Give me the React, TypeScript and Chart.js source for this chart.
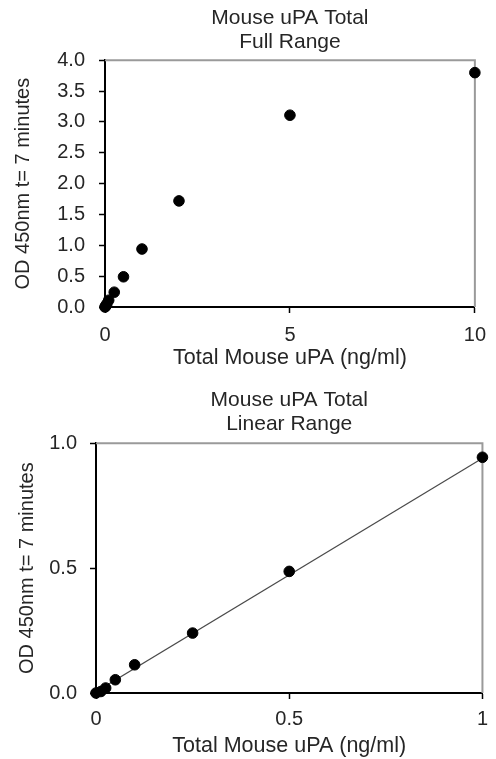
import React, { useEffect, useRef } from "react";
import { Chart, registerables } from "chart.js";

Chart.register(...registerables);

// ---- Data ----
const fullConc = [0, 0.0125, 0.025, 0.05, 0.1, 0.25, 0.5, 1, 2, 5, 10];
const fullOD = [0.0, 0.01, 0.02, 0.05, 0.11, 0.24, 0.49, 0.94, 1.72, 3.11, 3.8];

const linConc = [0, 0.0125, 0.025, 0.05, 0.1, 0.25, 0.5, 1];
const linOD = [0.0, 0.006, 0.02, 0.053, 0.113, 0.24, 0.487, 0.944];

const fitX = [0, 1];
const fitY = [0.005, 0.94];

const fullTitle = ["Mouse uPA Total", "Full Range"];
const linTitle = ["Mouse uPA Total", "Linear Range"];
const xTitle = "Total Mouse uPA (ng/ml)";
const yTitle = "OD 450nm t= 7 minutes";

const FONT = "'Liberation Sans', Arial, sans-serif";
const TXT = "#262626";

const framePlugin = {
  id: "frame",
  beforeDatasetsDraw(chart: any) {
    const { ctx, chartArea } = chart;
    ctx.save();
    ctx.strokeStyle = "#9a9a9a";
    ctx.lineWidth = 2;
    ctx.beginPath();
    ctx.moveTo(chartArea.left, chartArea.top);
    ctx.lineTo(chartArea.right, chartArea.top);
    ctx.lineTo(chartArea.right, chartArea.bottom);
    ctx.stroke();
    ctx.restore();
  },
};

type P = {
  w: number;
  h: number;
  title: string[];
  titlePad: { top: number; bottom: number };
  xs: number[];
  ys: number[];
  fit?: boolean;
  xMax: number;
  xStep: number;
  yMax: number;
  yStep: number;
  yWidth: number;
  xHeight: number;
  padRight: number;
  yTickPad: number;
  xTickPad: number;
  yTitlePad: number;
  xTitlePad: number;
};

function Plot(p: P) {
  const ref = useRef<HTMLCanvasElement | null>(null);
  useEffect(() => {
    if (!ref.current) return;
    const datasets: any[] = [
      {
        type: "scatter",
        data: p.xs.map((x, i) => ({ x, y: p.ys[i] })),
        backgroundColor: "#000",
        borderColor: "#000",
        pointRadius: 5.3,
        pointHoverRadius: 5.3,
        clip: false,
        order: 0,
      },
    ];
    if (p.fit) {
      datasets.push({
        type: "line",
        data: fitX.map((x, i) => ({ x, y: fitY[i] })),
        borderColor: "#4a4a4a",
        borderWidth: 1.2,
        pointRadius: 0,
        fill: false,
        order: 1,
      });
    }
    const chart = new Chart(ref.current, {
      type: "scatter",
      data: { datasets },
      plugins: [framePlugin],
      options: {
        animation: false,
        responsive: false,
        devicePixelRatio: 1,
        layout: { padding: { left: 0, right: p.padRight, top: 0, bottom: 0 } },
        plugins: {
          legend: { display: false },
          tooltip: { enabled: false },
          title: {
            display: true,
            text: p.title,
            fullSize: false,
            color: TXT,
            font: { family: FONT, size: 21, weight: "normal", lineHeight: 1.15 },
            padding: p.titlePad,
          },
        },
        scales: {
          x: {
            type: "linear",
            min: 0,
            max: p.xMax,
            afterFit: (s: any) => {
              s.height = p.xHeight;
            },
            ticks: {
              stepSize: p.xStep,
              color: TXT,
              font: { family: FONT, size: 20, lineHeight: 1.2 },
              padding: p.xTickPad,
              maxRotation: 0,
              callback: (v: any) => String(Number(v)),
            },
            grid: {
              drawOnChartArea: false,
              drawTicks: true,
              tickLength: 6,
              tickColor: "#000",
              tickWidth: 1.5,
            },
            border: { display: true, color: "#000", width: 2 },
            title: {
              display: true,
              text: xTitle,
              color: TXT,
              font: { family: FONT, size: 21.5, lineHeight: 1.2 },
              padding: { top: 0, bottom: p.xTitlePad },
            },
          },
          y: {
            type: "linear",
            min: 0,
            max: p.yMax,
            afterFit: (s: any) => {
              s.width = p.yWidth;
            },
            ticks: {
              stepSize: p.yStep,
              color: TXT,
              font: { family: FONT, size: 20, lineHeight: 1.2 },
              padding: p.yTickPad,
              callback: (v: any) => Number(v).toFixed(1),
            },
            grid: {
              drawOnChartArea: false,
              drawTicks: true,
              tickLength: 6,
              tickColor: "#000",
              tickWidth: 1.5,
            },
            border: { display: true, color: "#000", width: 2 },
            title: {
              display: true,
              text: yTitle,
              color: TXT,
              font: { family: FONT, size: 20, lineHeight: 1.2 },
              padding: { top: p.yTitlePad, bottom: 0 },
            },
          },
        },
      } as any,
    });
    return () => chart.destroy();
  }, []);
  return (
    <canvas
      ref={ref}
      width={p.w}
      height={p.h}
      style={{ display: "block", width: p.w, height: p.h }}
    />
  );
}

export default function App() {
  return (
    <div
      style={{
        position: "absolute",
        left: 0,
        top: 0,
        width: 496,
        height: 759,
        background: "#fff",
      }}
    >
      <Plot
        w={496}
        h={380}
        title={fullTitle}
        titlePad={{ top: 6, bottom: 6 }}
        xs={fullConc}
        ys={fullOD}
        xMax={10}
        xStep={5}
        yMax={4}
        yStep={0.5}
        yWidth={105}
        xHeight={73}
        padRight={14}
        yTickPad={14}
        xTickPad={10}
        yTitlePad={11}
        xTitlePad={9}
      />
      <Plot
        w={496}
        h={379}
        title={linTitle}
        titlePad={{ top: 8, bottom: 7 }}
        xs={linConc}
        ys={linOD}
        fit
        xMax={1}
        xStep={0.5}
        yMax={1}
        yStep={0.5}
        yWidth={96}
        xHeight={66}
        padRight={11}
        yTickPad={13}
        xTickPad={8}
        yTitlePad={15}
        xTitlePad={0}
      />
    </div>
  );
}
